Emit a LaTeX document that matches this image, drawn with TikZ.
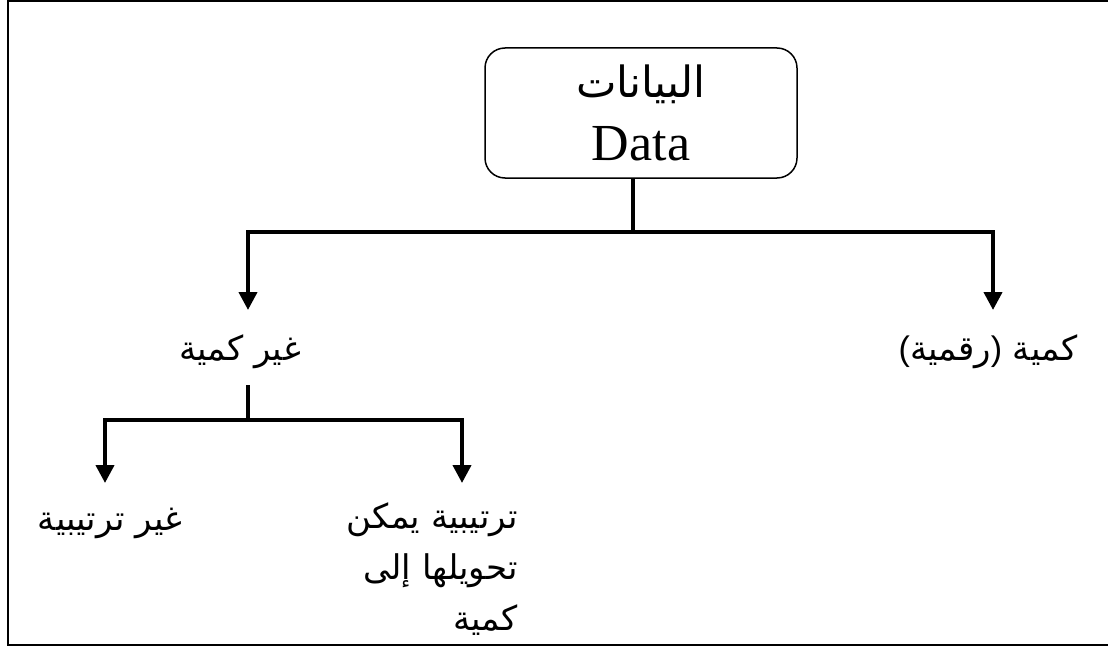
\documentclass[tikz,border=0pt]{standalone}
\usepackage{fontspec}
\setmainfont{Liberation Serif}
\newfontfamily\arabicfont[Script=Arabic]{DejaVu Sans}
\newfontfamily\latinsans{Liberation Sans}
\TeXXeTstate=1
\usetikzlibrary{arrows.meta}
\begin{document}
\begin{tikzpicture}[x=1pt,y=-1pt,
  conn/.style={line width=4pt},
  arr/.style={line width=4pt,-{Triangle[width=18pt,length=18pt]}},
  lbl/.style={font=\arabicfont\fontsize{34}{51}\selectfont, inner sep=0pt},
  rootbox/.style={draw, line width=1.5pt, rounded corners=20pt, minimum width=312pt, minimum height=130pt, align=center, inner sep=0pt}
]
\useasboundingbox (0,0) rectangle (1108,650);
\draw[line width=2pt] (1110,1) -- (8,1) -- (8,645) -- (1110,645);

\node[rootbox] (data) at (641,113) {{\arabicfont\fontsize{43}{48}\selectfont\beginR البيانات\endR}\\[22pt]{\fontsize{52}{56}\selectfont Data}};

\coordinate (j1) at (633,232);
\coordinate (t1) at (248,310);
\coordinate (t2) at (993,310);
\draw[conn] (data.south -| j1) -- (j1);
\draw[arr] (j1) -| (t1);
\draw[arr] (j1) -| (t2);

\node[lbl] (nq) at (240,352) {\beginR غير كمية\endR};
\node[lbl] (q) at (988,352) {\hbox{\latinsans(}\hbox{رقمية}\hbox{\latinsans)}\hbox{ }\hbox{كمية}};

\coordinate (s2) at (248,385);
\coordinate (j2) at (248,420);
\coordinate (t3) at (105,483);
\coordinate (t4) at (462,483);
\draw[conn] (s2) -- (j2);
\draw[arr] (j2) -| (t3);
\draw[arr] (j2) -| (t4);

\node[lbl] (nord) at (110,523) {\beginR غير ترتيبية\endR};
\node[lbl, align=right, anchor=north east] (ord) at (518,502) {\beginR ترتيبية يمكن\endR\\\beginR تحويلها إلى\endR\\\beginR كمية\endR};
\end{tikzpicture}
\end{document}
